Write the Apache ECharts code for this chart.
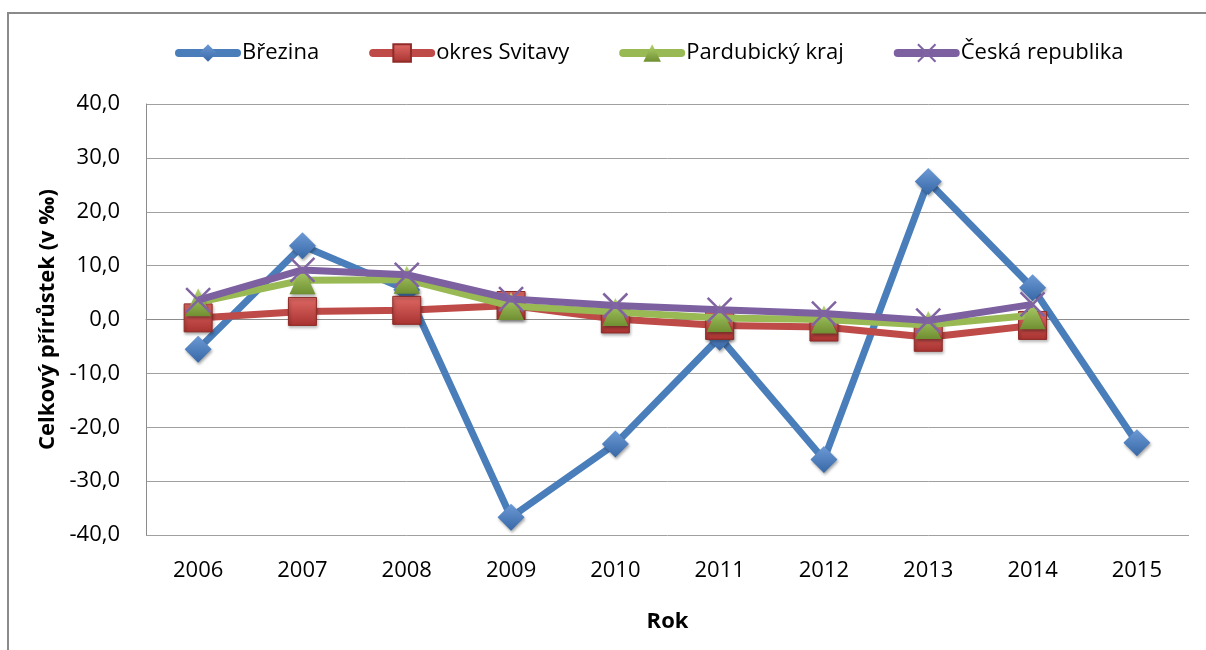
<!DOCTYPE html>
<html><head><meta charset="utf-8">
<script src="https://cdn.jsdelivr.net/npm/echarts@6/dist/echarts.min.js"></script>
<style>html,body{margin:0;padding:0;background:#fff}#c{width:1206px;height:650px}</style>
</head><body><div id="c"></div>
<script>
const years = ['2006','2007','2008','2009','2010','2011','2012','2013','2014','2015'];
const seriesNames = ['Březina','okres Svitavy','Pardubický kraj','Česká republika'];
const brezina = [-5.5, 13.7, 5.5, -36.7, -23.1, -3.3, -26.0, 25.6, 5.9, -22.9];
const svitavy = [0.3, 1.5, 1.7, 2.6, 0.1, -1.1, -1.4, -3.3, -1.1];
const pardubicky = [3.2, 7.3, 7.4, 2.5, 1.4, 0.3, 0.0, -1.0, 0.8];
const cr = [3.6, 9.2, 8.3, 3.8, 2.6, 1.8, 1.1, -0.2, 2.8];
const yTicks = {min: -40, max: 40, interval: 10};
const yTitle = 'Celkový přírůstek (v ‰)';
const xTitle = 'Rok';

const FONT = 'Open Sans';
function grad(top, bottom){
  return new echarts.graphic.LinearGradient(0,0,0,1,[{offset:0,color:top},{offset:1,color:bottom}]);
}
const shadow = {shadowBlur:3, shadowColor:'rgba(0,0,0,0.35)', shadowOffsetY:2, shadowOffsetX:1};

const chart = echarts.init(document.getElementById('c'), null, {renderer:'canvas'});
chart.setOption({
  animation:false,
  backgroundColor:'#fff',
  textStyle:{fontFamily:FONT},
  graphic:[{type:'rect', shape:{x:8, y:13, width:1300, height:700}, style:{fill:'none', stroke:'#8a8a8a', lineWidth:2}, silent:true}],
  legend:{
    top:37, left:170, itemWidth:58, itemHeight:22, itemGap:50,
    lineStyle:{width:8, cap:'round'},
    textStyle:{fontFamily:FONT, fontSize:22, color:'#000'},
    data:seriesNames
  },
  grid:{left:146, right:17, top:104, bottom:115},
  xAxis:{
    type:'category', data:years, boundaryGap:true,
    axisLine:{lineStyle:{color:'#8c8c8c', width:1}},
    axisTick:{show:false},
    axisLabel:{fontFamily:FONT, fontSize:22, color:'#000', margin:25},
    name:xTitle, nameLocation:'middle', nameGap:76,
    nameTextStyle:{fontFamily:FONT, fontSize:22, fontWeight:'bold', color:'#000'}
  },
  yAxis:{
    type:'value', min:yTicks.min, max:yTicks.max, interval:yTicks.interval,
    axisLine:{show:true, lineStyle:{color:'#8c8c8c', width:1}},
    axisTick:{show:false},
    splitLine:{lineStyle:{color:'#a0a0a0', width:1}},
    axisLabel:{fontFamily:FONT, fontSize:22, color:'#000', margin:26,
      formatter:v => v.toFixed(1).replace('.', ',')},
    name:yTitle, nameLocation:'middle', nameGap:86, nameRotate:90,
    nameTextStyle:{fontFamily:FONT, fontSize:22, fontWeight:'bold', color:'#000'}
  },
  series:[
    {name:seriesNames[0], type:'line', data:brezina, symbol:'diamond', symbolSize:27,
     lineStyle:{color:'#4a7ebb', width:7}, 
     itemStyle:Object.assign({color:grad('#6b9ad6','#3867a6'), borderWidth:0}, shadow), z:2},
    {name:seriesNames[1], type:'line', data:svitavy, symbol:'rect', symbolSize:28,
     lineStyle:{color:'#be4b48', width:7},
     itemStyle:Object.assign({color:grad('#e06a66','#a8322f'), borderColor:'#8f2b28', borderWidth:1}, shadow), z:3},
    {name:seriesNames[2], type:'line', data:pardubicky, symbol:'triangle', symbolSize:[26,28],
     lineStyle:{color:'#98b954', width:7},
     itemStyle:Object.assign({color:grad('#b3d46e','#6f8f32'), borderWidth:0}, shadow), z:4},
    {name:seriesNames[3], type:'line', data:cr, symbol:'path://M0,0L20,20M20,0L0,20', symbolSize:24,
     lineStyle:{color:'#7d60a0', width:7},
     itemStyle:{color:'#8064a2', borderColor:'#8064a2', borderWidth:2.5}, z:5}
  ]
});
</script></body></html>
